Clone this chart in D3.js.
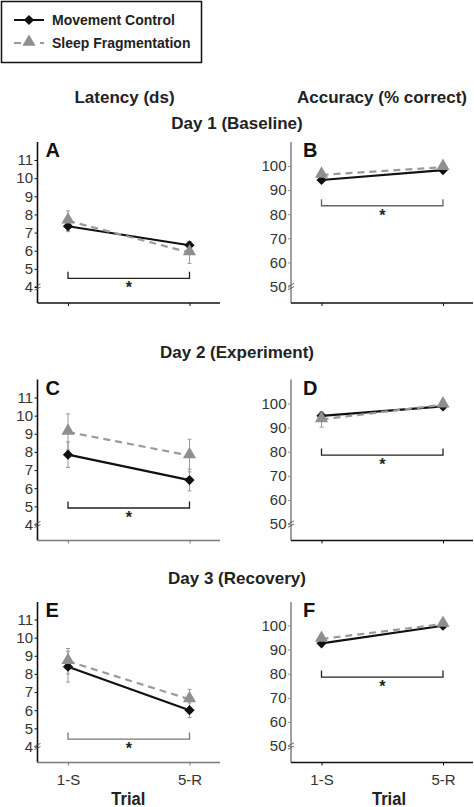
<!DOCTYPE html>
<html>
<head>
<meta charset="utf-8">
<script src="https://cdn.jsdelivr.net/npm/d3@7"></script>
<style>
  html, body { margin: 0; padding: 0; background: #fff; }
  svg { display: block; }
</style>
</head>
<body>
<svg id="chart" width="474" height="807"></svg>
<script>
// ---------------- DATA ----------------
const trials = ["1-S", "5-R"];
const seriesNames = ["Movement Control", "Sleep Fragmentation"];
const columnTitles = ["Latency (ds)", "Accuracy (% correct)"];
const dayTitles = ["Day 1 (Baseline)", "Day 2 (Experiment)", "Day 3 (Recovery)"];
const panelLetters = [["A", "B"], ["C", "D"], ["E", "F"]];
const latencyTicks = [4, 5, 6, 7, 8, 9, 10, 11];
const accuracyTicks = [50, 60, 70, 80, 90, 100];
const xAxisTitle = "Trial";

// latency (ds), per day [1-S, 5-R]
const latencyMC = [[7.35, 6.3], [7.85, 6.45], [8.4, 6.0]];
const latencySF = [[7.65, 5.9], [9.1, 7.8], [8.7, 6.6]];
const latencyMCErr = [[0.3, 0.2], [0.7, 0.6], [0.85, 0.4]];
const latencySFErr = [[0.55, 0.6], [1.0, 0.9], [0.7, 0.55]];
// accuracy (% correct), per day [1-S, 5-R]
const accuracyMC = [[94.2, 98.3], [94.9, 98.8], [92.6, 99.9]];
const accuracySF = [[96.3, 99.5], [93.4, 99.5], [94.4, 100.6]];
const accuracyMCErr = [[1, 1], [1, 1], [1, 1]];
const accuracySFErr = [[1, 1], [3.2, 1], [1, 1]];
// significance bracket levels (axis units), per day
const latencyBracket = [4.48, 4.91, 4.41];
const accuracyBracket = [83.5, 78.6, 78.6];

// ---------------- LAYOUT ----------------
const svg = d3.select("#chart");
const rowBase = [303, 540.5, 762.5];
const rowTop = [142, 379.5, 602];
const colAxisX = [37.5, 291];
const colRight = [220, 473];
const dayTitleY = [129, 358, 584];
const BLACK = "#111";
const GRAY = "#8f8f8f";
const axisColors = [["#111", "#8a8a8a"], ["#111", "#8a8a8a"], ["#111", "#8a8a8a"]];
const xAxisColors = [["#111", "#111"], ["#7a7a7a", "#111"], ["#7a7a7a", "#111"]];
const bracketColors = [["#222", "#666"], ["#222", "#222"], ["#777", "#222"]];

const tickFont = "'Liberation Sans', Arial, sans-serif";
const boldFont = "'Liberation Sans', Arial, sans-serif";

const diamond = d3.symbol().type(d3.symbolSquare).size(52);
const triangle = d3.symbol().type(d3.symbolTriangle).size(75);

// Legend
const legend = svg.append("g");
legend.append("rect").attr("x", 1.5).attr("y", 1.5).attr("width", 200).attr("height", 61)
  .attr("fill", "none").attr("stroke", "#111").attr("stroke-width", 1.5);
seriesNames.forEach((name, i) => {
  const yy = [20, 43][i];
  const g = legend.append("g");
  g.append("line").attr("x1", 14).attr("x2", 44).attr("y1", yy).attr("y2", yy)
    .attr("stroke", i === 0 ? BLACK : "#9a9a9a").attr("stroke-width", 2)
    .attr("stroke-dasharray", i === 0 ? null : "7,6");
  g.append("path").attr("d", i === 0 ? diamond() : triangle())
    .attr("transform", i === 0 ? `translate(29,${yy}) rotate(45)` : `translate(29,${yy - 1})`)
    .attr("fill", i === 0 ? BLACK : GRAY);
  g.append("text").attr("x", 52).attr("y", yy + 5)
    .attr("font-family", boldFont).attr("font-weight", "bold").attr("font-size", 14)
    .attr("fill", "#222").text(name);
});

// Column titles
columnTitles.forEach((t, c) => {
  svg.append("text").attr("x", [124.5, 382][c]).attr("y", 103)
    .attr("text-anchor", "middle").attr("font-family", boldFont).attr("font-weight", "bold")
    .attr("font-size", 17).attr("fill", "#222").text(t);
});
// Day titles
dayTitles.forEach((t, r) => {
  svg.append("text").attr("x", 237).attr("y", dayTitleY[r])
    .attr("text-anchor", "middle").attr("font-family", boldFont).attr("font-weight", "bold")
    .attr("font-size", 17).attr("fill", "#222").text(t);
});

function drawPanel(r, c) {
  const isLat = c === 0;
  const base = rowBase[r], top = rowTop[r];
  const ax = colAxisX[c], right = colRight[c];
  const x = d3.scalePoint().domain(trials).range([ax + 30.5, ax + 152]);
  const y = isLat
    ? d3.scaleLinear().domain([4, 11]).range([base - 16, base - 143])
    : d3.scaleLinear().domain([50, 100]).range([base - 16.5, base - 137]);
  const ticks = isLat ? latencyTicks : accuracyTicks;
  const mc = isLat ? latencyMC[r] : accuracyMC[r];
  const sf = isLat ? latencySF[r] : accuracySF[r];
  const mcE = isLat ? latencyMCErr[r] : accuracyMCErr[r];
  const sfE = isLat ? latencySFErr[r] : accuracySFErr[r];
  const br = isLat ? latencyBracket[r] : accuracyBracket[r];
  const g = svg.append("g");
  const ac = axisColors[r][c];

  // y axis
  const yAxis = g.append("g").attr("transform", `translate(${ax},0)`)
    .call(d3.axisLeft(y).tickValues(ticks).tickFormat(d3.format("d")).tickSize(3).tickPadding(1.5));
  yAxis.select(".domain").remove();
  yAxis.selectAll(".tick line").attr("stroke", ac);
  yAxis.selectAll(".tick text").attr("font-family", tickFont).attr("font-size", 15)
    .attr("fill", "#333");
  g.append("line").attr("x1", ax).attr("x2", ax).attr("y1", top).attr("y2", base)
    .attr("stroke", ac).attr("stroke-width", 1.6);
  // break mark
  const yb = y(ticks[0]);
  [-1.6, 1.6].forEach(o => {
    g.append("line").attr("x1", ax - 3).attr("x2", ax + 3)
      .attr("y1", yb + o + 1.5).attr("y2", yb + o - 1.5)
      .attr("stroke", "#555").attr("stroke-width", 0.9);
  });

  // x axis
  const xc = xAxisColors[r][c];
  const xAxis = g.append("g").attr("transform", `translate(0,${base})`)
    .call(d3.axisBottom(x).tickSize(3).tickPadding(9));
  xAxis.select(".domain").remove();
  xAxis.selectAll(".tick line").attr("stroke", xc);
  if (r === 2) {
    xAxis.selectAll(".tick text").attr("font-family", tickFont).attr("font-size", 15)
      .attr("fill", "#333");
    g.append("text").attr("x", [128.3, 389][c]).attr("y", base + 42)
      .attr("text-anchor", "middle").attr("font-family", boldFont).attr("font-weight", "bold")
      .attr("font-size", 18).attr("fill", "#222")
      .attr("textLength", 34).attr("lengthAdjust", "spacingAndGlyphs").text(xAxisTitle);
  } else {
    xAxis.selectAll(".tick text").remove();
  }
  g.append("line").attr("x1", ax).attr("x2", right).attr("y1", base).attr("y2", base)
    .attr("stroke", xc).attr("stroke-width", 1.6);

  // panel letter
  g.append("text").attr("x", ax + (c === 0 ? 8 : 12)).attr("y", top + 15)
    .attr("font-family", boldFont).attr("font-weight", "bold").attr("font-size", 20)
    .attr("fill", "#111").text(panelLetters[r][c]);

  // significance bracket
  const bc = bracketColors[r][c];
  const by = y(br);
  g.append("path")
    .attr("d", `M${x(trials[0])},${by - 6.5}V${by}H${x(trials[1])}V${by - 6.5}`)
    .attr("fill", "none").attr("stroke", bc).attr("stroke-width", 1.3);
  g.append("text").attr("x", (x(trials[0]) + x(trials[1])) / 2).attr("y", by + 15)
    .attr("text-anchor", "middle").attr("font-family", boldFont).attr("font-weight", "bold")
    .attr("font-size", 16).attr("fill", "#222").text("*");

  // error bars
  const drawErr = (vals, errs) => {
    trials.forEach((t, i) => {
      const cx = x(t), y1 = y(vals[i] - errs[i]), y2 = y(vals[i] + errs[i]);
      g.append("line").attr("x1", cx).attr("x2", cx).attr("y1", y1).attr("y2", y2)
        .attr("stroke", "#9a9a9a").attr("stroke-width", 1);
      [y1, y2].forEach(yy => g.append("line").attr("x1", cx - 2).attr("x2", cx + 2)
        .attr("y1", yy).attr("y2", yy).attr("stroke", "#9a9a9a").attr("stroke-width", 1));
    });
  };
  drawErr(mc, mcE);
  drawErr(sf, sfE);

  const line = d3.line().x((d, i) => x(trials[i])).y(d => y(d));
  g.append("path").attr("d", line(mc)).attr("fill", "none").attr("stroke", BLACK)
    .attr("stroke-width", 2.2);
  mc.forEach((v, i) => g.append("path").attr("d", diamond())
    .attr("transform", `translate(${x(trials[i])},${y(v)}) rotate(45)`).attr("fill", BLACK));
  g.append("path").attr("d", line(sf)).attr("fill", "none").attr("stroke", "#9a9a9a")
    .attr("stroke-width", 2.2).attr("stroke-dasharray", "7,5");
  sf.forEach((v, i) => g.append("path").attr("d", triangle())
    .attr("transform", `translate(${x(trials[i])},${y(v) - 1})`).attr("fill", GRAY));
}

for (let r = 0; r < 3; r++) for (let c = 0; c < 2; c++) drawPanel(r, c);
</script>
</body>
</html>
